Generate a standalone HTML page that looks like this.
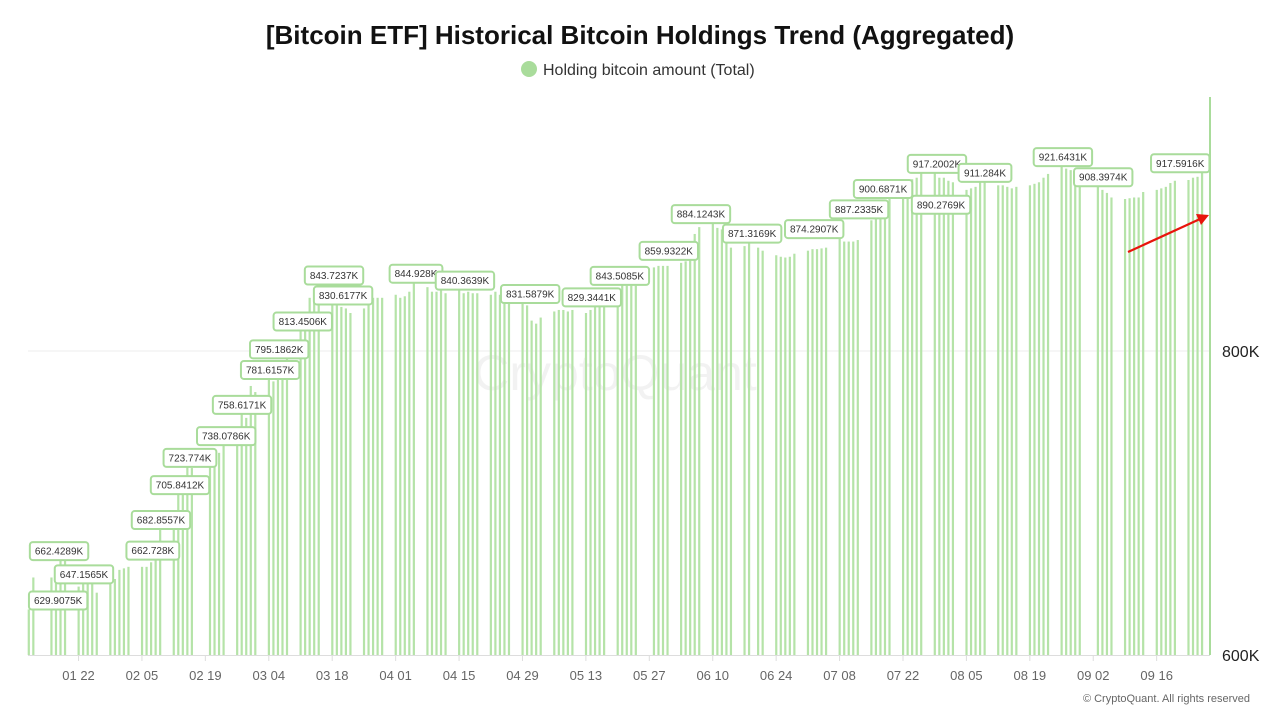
<!DOCTYPE html>
<html><head><meta charset="utf-8">
<style>
html,body{margin:0;padding:0;background:#fff;}
svg{display:block;font-family:"Liberation Sans",sans-serif;}
</style></head>
<body>
<svg id="chart" width="1280" height="717" viewBox="0 0 1280 717">
<text x="640" y="44" text-anchor="middle" font-size="26" font-weight="bold" fill="#111">[Bitcoin ETF] Historical Bitcoin Holdings Trend (Aggregated)</text>
<g>
<circle cx="529" cy="69" r="8" fill="#a9dc9b"></circle>
<text x="543" y="75" font-size="16" fill="#333">Holding bitcoin amount (Total)</text>
</g>
<text x="615" y="390" text-anchor="middle" font-size="50" fill="#000" fill-opacity="0.05">CryptoQuant</text>
<line x1="28" y1="351" x2="1210" y2="351" stroke="#eee" stroke-width="1"></line>
<g id="bars"></g>
<line x1="28" y1="655.5" x2="1210" y2="655.5" stroke="#ddd" stroke-width="1"></line>
<g id="xticks"></g>
<g id="yticks"></g>
<line x1="1210" y1="97" x2="1210" y2="655" stroke="#a9dc9b" stroke-width="2"></line>
<g id="annots"></g>
<g>
<line x1="1128" y1="252" x2="1200" y2="219" stroke="#e8140c" stroke-width="2.2"></line>
<polygon points="1209,215 1196,214 1201,225" fill="#e8140c"></polygon>
</g>
<text x="1250" y="702" text-anchor="end" font-size="11" fill="#666">© CryptoQuant. All rights reserved</text>
</svg>
<script>
// values (K BTC), one row per week starting Monday Jan 8 2024; null = no bar
const weekValues = [
[null,null,null,630,651],[null,651,651,662,662.4],[645,647,647.2,647,641],[648,650,656,657,658],
[658,658,661,662.7,682.9],[683,705.8,706,723.8,723],[null,728,730,733,738.1],[740,758.6,756,777,773],
[781.6,780,781,790,795.2],[813.5,813,835,836,843.7],[830.6,830,829,828,825],[828,835,835,835,835],
[837,835,836,839,844.9],[842,839,839,840,838],[840.4,838,839,838,838],[837,839,837,831.6,832],
[831,830,820,818,822],[826,827,827,826,827],[825,827,829,829.3,829],[841,843.5,843,843,843],
[null,855,856,856,856],[858,859,859.9,877,881.5],[884.1,881,880,878,868],[869,871.3,null,868,866],
[863,862,861.5,862,864],[866,867,867,867.5,868],[874.3,872,872,872,873],[886,887.2,887,887,900.7],
[910,912,913,914,917.2],[917,914,914,912,911],[906,907,908,911.3,911],[909,909,908,907,908],
[909,910,911,914,916.5],[921.6,920,919,918,915],[null,908.4,906,904,901],[900,900.5,901,901,904.6],
[906,907,908,910.5,912],[912.5,914,914.6,917.6,null]
];
const xTickLabels = ["01 22","02 05","02 19","03 04","03 18","04 01","04 15","04 29","05 13","05 27","06 10","06 24","07 08","07 22","08 05","08 19","09 02","09 16"];
const xTickDays = [11,25,39,53,67,81,95,109,123,137,151,165,179,193,207,221,235,249];
const yTickValues = [600,800];
const yTickLabels = ["600K","800K"];
const annotDays = [6.5,6.7,12.2,27.4,29.2,33.4,35.6,43.6,47.1,53.3,55.3,60.5,67.4,69.4,85.5,96.3,110.7,124.3,130.5,141.3,148.4,159.7,173.4,183.3,188.6,200.5,201.4,211.1,228.3,237.2,254.2];
const annotValues = [629.9075,662.4289,647.1565,662.728,682.8557,705.8412,723.774,738.0786,758.6171,781.6157,795.1862,813.4506,843.7237,830.6177,844.928,840.3639,831.5879,829.3441,843.5085,859.9322,884.1243,871.3169,874.2907,887.2335,900.6871,917.2002,890.2769,911.284,921.6431,908.3974,917.5916];

const NS="http://www.w3.org/2000/svg";
function xOf(day){return 28.7+day*4.53;}
function yOf(v){return 655-(v-600)*1.52;}
const bars=document.getElementById('bars');
weekValues.forEach((wk,w)=>{wk.forEach((v,k)=>{
  if(v===null)return;
  const d=-3+7*w+k;
  const r=document.createElementNS(NS,'rect');
  r.setAttribute('x',xOf(d)-1);r.setAttribute('y',yOf(v));
  r.setAttribute('width',2.2);r.setAttribute('height',655-yOf(v));
  r.setAttribute('fill','#b5e3a8');
  
  
  bars.appendChild(r);
});});
const xt=document.getElementById('xticks');
xTickLabels.forEach((lab,i)=>{
  const x=xOf(xTickDays[i]);
  const l=document.createElementNS(NS,'line');
  l.setAttribute('x1',x);l.setAttribute('x2',x);l.setAttribute('y1',656);l.setAttribute('y2',661);
  l.setAttribute('stroke','#ddd');
  
  
  xt.appendChild(l);
  const t=document.createElementNS(NS,'text');
  t.setAttribute('x',x);t.setAttribute('y',680);t.setAttribute('text-anchor','middle');
  t.setAttribute('font-size','13');t.setAttribute('fill','#666');t.textContent=lab;
  
  
  xt.appendChild(t);
});
const yt=document.getElementById('yticks');
yTickValues.forEach((v,i)=>{
  const t=document.createElementNS(NS,'text');
  t.setAttribute('x',1222);t.setAttribute('y',yOf(v)+6);
  t.setAttribute('font-size','16');t.setAttribute('fill','#222');t.textContent=yTickLabels[i];
  
  
  yt.appendChild(t);
});
const an=document.getElementById('annots');
annotValues.forEach((v,i)=>{
  const txt=v+'K';
  const w=txt.length*5.6+8;
  const cx=xOf(annotDays[i]), cy=yOf(v)-9;
  const g=document.createElementNS(NS,'g');
  
  
  const r=document.createElementNS(NS,'rect');
  r.setAttribute('x',cx-w/2);r.setAttribute('y',cy-9);r.setAttribute('width',w);r.setAttribute('height',18);
  r.setAttribute('rx',3);r.setAttribute('fill','#fff');r.setAttribute('stroke','#a9dc9b');r.setAttribute('stroke-width','2');
  g.appendChild(r);
  const t=document.createElementNS(NS,'text');
  t.setAttribute('x',cx);t.setAttribute('y',cy+3.5);t.setAttribute('text-anchor','middle');
  t.setAttribute('font-size','10');t.setAttribute('fill','#333');t.textContent=txt;
  g.appendChild(t);
  an.appendChild(g);
});
</script>
</body></html>
